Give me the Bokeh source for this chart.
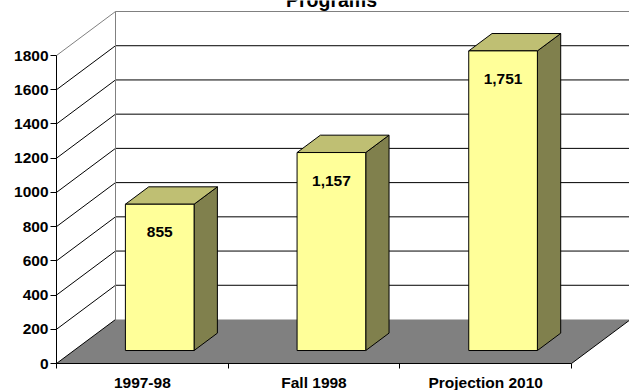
from bokeh.plotting import figure
from bokeh.models import Range1d, FixedTicker, Label, LinearAxis
from bokeh.embed import file_html
from bokeh.resources import INLINE
from bokeh.core.properties import value

# ---- data ----
categories = ["1997-98", "Fall 1998", "Projection 2010"]
students = [855, 1157, 1751]
value_labels = ["855", "1,157", "1,751"]
y_ticks = [0, 200, 400, 600, 800, 1000, 1200, 1400, 1600, 1800]
title_text = "Programs"

# ---- layout of the pseudo-3D box ----
W, H = 629, 390
PX_CAT = 515.0 / 3          # pixels per category on the front plane
PX_VAL = 308.0 / 1800       # pixels per unit on the front plane
LEFT_PX, BOTTOM_PX = 56, 27  # where the front origin sits on the canvas
DEPTH_X = 59 / PX_CAT        # receding offset of the back wall (category units)
DEPTH_Y = 44 / PX_VAL        # receding offset of the back wall (value units)
BAR_FRONT, BAR_BACK = 0.295, 0.69   # bar depth as a fraction of the box depth
BAR_HALF = 0.20

FONT = "Liberation Sans"
FRONT_C, TOP_C, SIDE_C = "#FFFF99", "#BFBF73", "#80804D"
FLOOR_C, EDGE_C = "#808080", "#808080"

n = len(categories)
y_top = y_ticks[-1]


def proj(x, v, d):
    """Oblique projection of (category x, value v, depth d in 0..1)."""
    return x + d * DEPTH_X, v + d * DEPTH_Y


p = figure(width=W, height=H, output_backend="svg", toolbar_location=None,
           x_range=Range1d(-LEFT_PX / PX_CAT, (W - LEFT_PX) / PX_CAT),
           y_range=Range1d(-BOTTOM_PX / PX_VAL, (H - BOTTOM_PX) / PX_VAL),
           x_axis_type=None, y_axis_type=None, min_border=0)
p.outline_line_color = None
p.background_fill_color = "white"
p.border_fill_color = "white"

# floor
fl = [proj(0, 0, 0), proj(n, 0, 0), proj(n, 0, 1), proj(0, 0, 1)]
p.patch([q[0] for q in fl], [q[1] for q in fl], fill_color=FLOOR_C, line_color=None)
fr = [proj(n, 0, 0), proj(n, 0, 1)]
p.line([q[0] for q in fr], [q[1] for q in fr], line_color="black", line_width=1)

# back wall gridlines and left wall diagonals
for t in y_ticks:
    c = EDGE_C if t == y_top else "black"
    a, b = proj(0, t, 0), proj(0, t, 1)
    p.line([a[0], b[0]], [a[1], b[1]], line_color=c, line_width=1)
    if t > 0:
        a2, b2 = proj(0, t, 1), proj(n, t, 1)
        p.line([a2[0], b2[0]], [a2[1], b2[1]], line_color=c, line_width=1)
e0, e1 = proj(0, 0, 1), proj(0, y_top, 1)
p.line([e0[0], e1[0]], [e0[1], e1[1]], line_color=EDGE_C, line_width=1)

# bars: side, top, front faces
side_xs, side_ys, top_xs, top_ys, front_xs, front_ys = [], [], [], [], [], []
lab_x, lab_y = [], []
for i, v in enumerate(students):
    cx = i + 0.5
    x0, x1 = cx - BAR_HALF, cx + BAR_HALF
    front = [proj(x0, 0, BAR_FRONT), proj(x1, 0, BAR_FRONT),
             proj(x1, v, BAR_FRONT), proj(x0, v, BAR_FRONT)]
    side = [proj(x1, 0, BAR_FRONT), proj(x1, 0, BAR_BACK),
            proj(x1, v, BAR_BACK), proj(x1, v, BAR_FRONT)]
    top = [proj(x0, v, BAR_FRONT), proj(x1, v, BAR_FRONT),
           proj(x1, v, BAR_BACK), proj(x0, v, BAR_BACK)]
    for pts, xs, ys in ((front, front_xs, front_ys), (side, side_xs, side_ys),
                        (top, top_xs, top_ys)):
        xs.append([q[0] for q in pts])
        ys.append([q[1] for q in pts])
    lx, ly = proj(cx, v, BAR_FRONT)
    lab_x.append(lx)
    lab_y.append(ly)

p.patches(side_xs, side_ys, fill_color=SIDE_C, line_color="black", line_width=1)
p.patches(top_xs, top_ys, fill_color=TOP_C, line_color="black", line_width=1)
p.patches(front_xs, front_ys, fill_color=FRONT_C, line_color="black", line_width=1)

p.text(x=lab_x, y=lab_y, text=value_labels, y_offset=28,
       text_align="center", text_baseline="middle",
       text_font=value(FONT), text_font_style="bold", text_font_size="15.5px",
       text_color="black")

# axes on the front plane
yaxis = LinearAxis(fixed_location=0, bounds=(0, y_top),
                   ticker=FixedTicker(ticks=y_ticks),
                   major_tick_out=6, major_tick_in=0,
                   minor_tick_out=0, minor_tick_in=0,
                   major_label_standoff=2,
                   axis_line_color="black", major_tick_line_color="black",
                   major_label_text_font=FONT, major_label_text_font_style="bold",
                   major_label_text_font_size="15.5px",
                   major_label_text_color="black")
p.add_layout(yaxis, "left")

centers = [i + 0.5 for i in range(n)]
xaxis = LinearAxis(fixed_location=0, bounds=(0, n),
                   ticker=FixedTicker(ticks=centers, minor_ticks=list(range(n + 1))),
                   major_tick_out=0, major_tick_in=0,
                   minor_tick_out=5, minor_tick_in=0,
                   major_label_standoff=5,
                   major_label_overrides={c: lab for c, lab in zip(centers, categories)},
                   axis_line_color="black", minor_tick_line_color="black",
                   major_label_text_font=FONT, major_label_text_font_style="bold",
                   major_label_text_font_size="15.5px",
                   major_label_text_color="black")
p.add_layout(xaxis, "below")

p.add_layout(Label(x=331, y=H + 1, x_units="screen", y_units="screen",
                   text=title_text, text_align="center", text_baseline="alphabetic",
                   text_font=FONT, text_font_style="bold", text_font_size="19.5px",
                   text_color="black"))

open("out.html", "w").write(file_html(p, INLINE))
